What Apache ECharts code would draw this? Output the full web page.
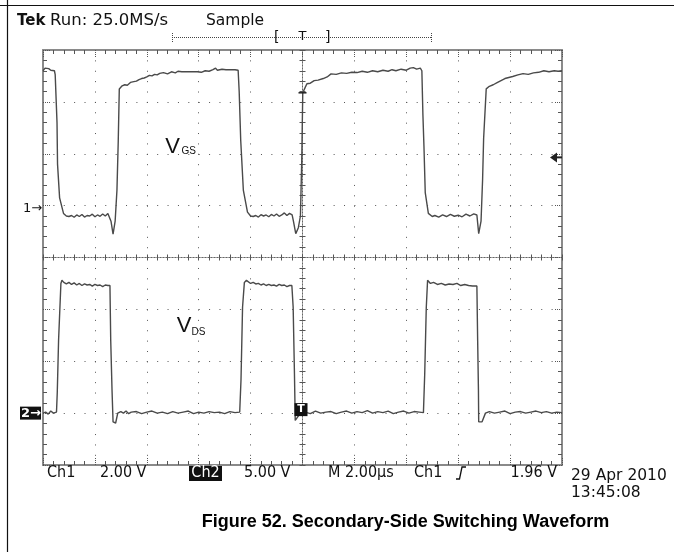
<!DOCTYPE html>
<html>
<head>
<meta charset="utf-8">
<title>Secondary-Side Switching Waveform</title>
<script src="https://cdn.jsdelivr.net/npm/echarts@6.0.0/dist/echarts.min.js"></script>
<style>
  html, body { margin: 0; padding: 0; background: #fff; }
  #chart { width: 674px; height: 552px; }
</style>
</head>
<body>
<div id="chart"></div>
<script>
// time in µs (M 2.00µs/div, trigger at 0), values in volts
const timeRange = [-10, 10];
const ch1Range = [-9.9, 6.1];   // Ch1 2.00 V/div
const ch2Range = [-5, 35];      // Ch2 5.00 V/div
const divRange = [-4, 4];       // 8 vertical divisions
const ch1TriggerLevel = 1.96;

// Ch1 = VGS
const ch1Trace = [
  [-10, 5.30], [-9.92, 5.40], [-9.85, 5.34], [-9.78, 5.38], [-9.70, 5.32], [-9.56, 5.30], [-9.53, 5.15],
  [-9.46, 3.3], [-9.44, 1.7], [-9.36, 0.4], [-9.21, -0.2], [-9.10, -0.30],
  [-9.0, -0.32], [-8.9, -0.28], [-8.8, -0.35], [-8.7, -0.26], [-8.6, -0.32], [-8.5, -0.24], [-8.4, -0.34],
  [-8.3, -0.28], [-8.2, -0.30], [-8.1, -0.23], [-8.0, -0.33], [-7.9, -0.26], [-7.8, -0.31], [-7.7, -0.22],
  [-7.6, -0.30], [-7.5, -0.20], [-7.43, -0.24],
  [-7.38, -0.5], [-7.30, -1.0], [-7.22, -0.5], [-7.15, 0.7], [-7.10, 2.6], [-7.06, 4.6],
  [-6.95, 4.72], [-6.85, 4.76], [-6.75, 4.74], [-6.63, 4.85], [-6.5, 4.88], [-6.4, 4.90], [-6.3, 4.96],
  [-6.2, 5.00], [-6.1, 5.02], [-6.0, 5.06], [-5.9, 5.12], [-5.8, 5.10], [-5.7, 5.16], [-5.6, 5.14],
  [-5.5, 5.20], [-5.36, 5.23], [-5.2, 5.18], [-5.05, 5.26], [-4.9, 5.22], [-4.8, 5.28], [-4.65, 5.26],
  [-4.5, 5.26], [-4.3, 5.26], [-4.05, 5.26], [-3.9, 5.24], [-3.75, 5.30], [-3.6, 5.28], [-3.45, 5.34],
  [-3.35, 5.40], [-3.28, 5.32], [-3.1, 5.36], [-2.95, 5.34], [-2.8, 5.34], [-2.6, 5.34], [-2.48, 5.32],
  [-2.44, 4.5], [-2.38, 2.6], [-2.28, 0.7], [-2.12, -0.15], [-2.0, -0.30],
  [-1.9, -0.32], [-1.8, -0.28], [-1.7, -0.34], [-1.6, -0.25], [-1.5, -0.30], [-1.4, -0.26], [-1.3, -0.33],
  [-1.2, -0.24], [-1.1, -0.30], [-1.0, -0.22], [-0.9, -0.31], [-0.8, -0.26], [-0.7, -0.18], [-0.6, -0.28],
  [-0.5, -0.20], [-0.4, -0.26],
  [-0.35, -0.5], [-0.26, -0.98], [-0.16, -0.75], [-0.08, -0.3], [-0.03, 1.8], [0.01, 4.45],
  [0.1, 4.65], [0.17, 4.80], [0.3, 4.82], [0.45, 4.92], [0.6, 4.94], [0.8, 5.00], [0.95, 5.06], [1.1, 5.18],
  [1.3, 5.16], [1.5, 5.22], [1.7, 5.20], [1.9, 5.24], [2.1, 5.23], [2.3, 5.28], [2.5, 5.24], [2.7, 5.30],
  [2.9, 5.26], [3.1, 5.32], [3.3, 5.28], [3.45, 5.34], [3.6, 5.30], [3.8, 5.36], [4.0, 5.32], [4.15, 5.40],
  [4.27, 5.42], [4.4, 5.36], [4.54, 5.40], [4.6, 5.3],
  [4.64, 3.6], [4.68, 2.4], [4.73, 0.6], [4.85, -0.2], [5.0, -0.32],
  [5.1, -0.28], [5.25, -0.34], [5.4, -0.26], [5.55, -0.32], [5.7, -0.24], [5.85, -0.31], [6.0, -0.27],
  [6.15, -0.33], [6.3, -0.23], [6.45, -0.30], [6.6, -0.22], [6.72, -0.26],
  [6.79, -0.98], [6.88, -0.5], [6.94, 1.1], [6.98, 2.7], [7.08, 4.6],
  [7.2, 4.7], [7.35, 4.76], [7.5, 4.84], [7.65, 4.92], [7.8, 5.00], [7.95, 5.04], [8.1, 5.08], [8.3, 5.14],
  [8.5, 5.19], [8.7, 5.16], [8.9, 5.22], [9.1, 5.24], [9.3, 5.30], [9.5, 5.26], [9.7, 5.30], [9.85, 5.28],
  [10, 5.30]
];

// Ch2 = VDS
const ch2Trace = [
  [-10, 0.0], [-9.9, 0.1], [-9.8, -0.1], [-9.7, 0.2], [-9.6, 0.0], [-9.48, 0.1],
  [-9.45, 2.0], [-9.40, 7.0], [-9.31, 12.5], [-9.27, 12.8],
  [-9.2, 12.6], [-9.1, 12.45], [-9.0, 12.6], [-8.9, 12.4], [-8.8, 12.55], [-8.7, 12.35], [-8.6, 12.5],
  [-8.5, 12.3], [-8.4, 12.45], [-8.3, 12.35], [-8.2, 12.4], [-8.1, 12.25], [-8.0, 12.4], [-7.9, 12.3],
  [-7.8, 12.35], [-7.7, 12.2], [-7.6, 12.35], [-7.5, 12.3], [-7.42, 12.3],
  [-7.39, 7.0], [-7.34, 2.2], [-7.30, -0.85], [-7.2, -0.95], [-7.12, 0.0],
  [-7.0, 0.15], [-6.9, 0.0], [-6.8, 0.2], [-6.7, -0.05], [-6.6, 0.1], [-6.4, 0.15], [-6.2, -0.05],
  [-6.0, 0.1], [-5.8, 0.2], [-5.6, 0.0], [-5.4, 0.1], [-5.2, -0.05], [-5.0, 0.15], [-4.8, 0.0], [-4.6, 0.1],
  [-4.4, 0.2], [-4.2, -0.05], [-4.0, 0.1], [-3.8, 0.0], [-3.6, 0.15], [-3.4, 0.05], [-3.2, 0.1],
  [-3.0, -0.05], [-2.8, 0.15], [-2.6, 0.05], [-2.42, 0.1],
  [-2.37, 3.2], [-2.31, 10.2], [-2.24, 12.6], [-2.16, 12.8], [-2.0, 12.5],
  [-1.9, 12.6], [-1.8, 12.45], [-1.7, 12.5], [-1.6, 12.35], [-1.5, 12.45], [-1.4, 12.3], [-1.3, 12.4],
  [-1.2, 12.3], [-1.1, 12.35], [-1.0, 12.25], [-0.9, 12.4], [-0.8, 12.3], [-0.7, 12.35], [-0.6, 12.2],
  [-0.5, 12.3], [-0.41, 12.3],
  [-0.36, 10.2], [-0.31, 3.8], [-0.28, -0.7], [-0.21, -0.85], [-0.08, 0.0],
  [0.1, 0.1], [0.3, -0.05], [0.5, 0.2], [0.7, 0.0], [0.9, 0.1], [1.1, 0.15], [1.3, -0.05], [1.5, 0.1],
  [1.7, 0.2], [1.9, 0.0], [2.1, 0.15], [2.3, 0.05], [2.5, 0.25], [2.7, 0.0], [2.9, 0.15], [3.1, 0.05],
  [3.3, 0.2], [3.5, -0.05], [3.7, 0.1], [3.9, 0.2], [4.1, 0.0], [4.3, 0.15], [4.5, 0.1], [4.66, 0.05],
  [4.71, 3.8], [4.77, 10.2], [4.82, 12.8], [4.93, 12.5],
  [5.05, 12.6], [5.2, 12.4], [5.35, 12.5], [5.5, 12.35], [5.65, 12.45], [5.8, 12.4], [5.95, 12.5],
  [6.1, 12.3], [6.25, 12.4], [6.4, 12.3], [6.55, 12.25], [6.72, 12.25],
  [6.75, 7.0], [6.78, 2.2], [6.79, -0.84], [6.92, -0.84], [7.05, 0.0],
  [7.2, 0.15], [7.4, 0.0], [7.6, 0.1], [7.8, 0.2], [8.0, -0.05], [8.2, 0.1], [8.4, 0.15], [8.6, 0.0],
  [8.8, 0.1], [9.0, 0.2], [9.2, 0.05], [9.4, 0.15], [9.6, 0.0], [9.8, 0.1], [10, 0.05]
];

const headerTexts = ['Tek', 'Run: 25.0MS/s', 'Sample'];
const readoutTexts = ['Ch1', '2.00 V', 'Ch2', '5.00 V', 'M 2.00µs', 'Ch1', '1.96 V'];
const dateTexts = ['29 Apr 2010', '13:45:08'];
const captionText = 'Figure 52. Secondary-Side Switching Waveform';

const scopeFont = '"DejaVu Sans", sans-serif';
const readFont = '"DejaVu Sans Condensed", "Liberation Sans Narrow", "DejaVu Sans", sans-serif';
const labelFont = '"Liberation Sans", Arial, sans-serif';

const borderColor = '#8a8a8a';
const gridColor = '#555';
const traceColor = '#4a4a4a';
const dots = [1, 9.38];

function borderAxis(pos, extra) {
  return Object.assign({
    type: 'value', position: pos, min: divRange[0], max: divRange[1], interval: 1,
    axisLine: { show: true, onZero: false, lineStyle: { color: borderColor, width: 2 } },
    axisTick: { show: true, inside: true, length: 8, lineStyle: { color: gridColor, type: [1, 1] } },
    minorTick: { show: true, splitNumber: 5, length: 4, lineStyle: { color: gridColor } },
    axisLabel: { show: false },
    splitLine: { show: false }
  }, extra || {});
}

function centerAxis(pos, inside, zeroIndex) {
  return {
    type: 'value', position: pos, min: divRange[0], max: divRange[1], interval: 1,
    axisLine: { show: true, onZero: true, onZeroAxisIndex: zeroIndex, lineStyle: { color: '#666', type: [1, 2] } },
    axisTick: { show: true, inside: inside, length: 3, lineStyle: { color: '#555' } },
    minorTick: { show: true, splitNumber: 5, length: 3, lineStyle: { color: '#555' } },
    axisLabel: { show: false },
    splitLine: { show: false }
  };
}

const xBorder = {
  min: timeRange[0], max: timeRange[1], interval: 2
};

const option = {
  animation: false,
  backgroundColor: '#fff',
  grid: { left: 43, top: 50, width: 519, height: 415, outerBoundsMode: 'none', containLabel: false },
  xAxis: [
    borderAxis('bottom', Object.assign({}, xBorder, {
      splitLine: { show: true, lineStyle: { color: gridColor, width: 1, type: dots } }
    })),
    borderAxis('top', xBorder),
    Object.assign(centerAxis('bottom', true, 2), xBorder),
    Object.assign(centerAxis('bottom', false, 2), xBorder)
  ],
  yAxis: [
    { type: 'value', show: false, min: ch1Range[0], max: ch1Range[1], axisLine: { onZero: false } },
    { type: 'value', show: false, min: ch2Range[0], max: ch2Range[1], axisLine: { onZero: false } },
    borderAxis('left', {
      splitLine: { show: true, lineStyle: { color: gridColor, width: 1, type: dots } }
    }),
    borderAxis('right'),
    centerAxis('left', true, 0),
    centerAxis('left', false, 0)
  ],
  series: [
    {
      name: 'VGS', type: 'line', xAxisIndex: 0, yAxisIndex: 0, data: ch1Trace,
      showSymbol: false, lineStyle: { color: traceColor, width: 1.4 }, z: 5
    },
    {
      name: 'VDS', type: 'line', xAxisIndex: 0, yAxisIndex: 1, data: ch2Trace,
      showSymbol: false, lineStyle: { color: traceColor, width: 1.4 }, z: 5
    }
  ]
};

const chart = echarts.init(document.getElementById('chart'));
chart.setOption(option);

function txt(x, y, s, font, size, extra) {
  return {
    type: 'text', x: x, y: y, z: 20,
    style: Object.assign({ text: s, fontFamily: font, fontSize: size, fill: '#111', verticalAlign: 'middle' }, extra || {})
  };
}
function line(x1, y1, x2, y2, style) {
  return { type: 'line', z: 20, shape: { x1: x1, y1: y1, x2: x2, y2: y2 },
    style: Object.assign({ stroke: '#111', lineWidth: 1 }, style || {}) };
}

// marker positions from the axes
const xT = chart.convertToPixel({ xAxisIndex: 0 }, 0);
const g1 = chart.convertToPixel({ yAxisIndex: 0 }, 0);
const g2 = chart.convertToPixel({ yAxisIndex: 1 }, 0);
const trigY = chart.convertToPixel({ yAxisIndex: 0 }, ch1TriggerLevel);
const trigOnTrace = chart.convertToPixel({ yAxisIndex: 0 }, 4.45);
const xRight = 43 + 519;

const graphics = [
  // page frame
  line(7.5, 0, 7.5, 552, { lineWidth: 1.2 }),
  line(0, 5.5, 674, 5.5, { lineWidth: 1.2 }),
  // header
  txt(17, 21, headerTexts[0], scopeFont, 15, { fontWeight: 'bold' }),
  txt(50, 21, headerTexts[1], scopeFont, 16.5),
  txt(206, 21, headerTexts[2], scopeFont, 15.5),
  // trigger position bar
  line(172, 37.5, 432, 37.5, { stroke: '#444', lineDash: [1, 1] }),
  line(172.5, 33, 172.5, 42, { stroke: '#444', lineDash: [1, 1] }),
  line(431.5, 33, 431.5, 42, { stroke: '#444', lineDash: [1, 1] }),
  txt(274, 37, '[', scopeFont, 14),
  txt(xT, 37, 'T', scopeFont, 13, { align: 'center' }),
  txt(325, 37, ']', scopeFont, 14),
  // channel ground markers
  txt(23, g1, '1→', scopeFont, 13),
  { type: 'rect', z: 20, shape: { x: 20, y: g2 - 6.5, width: 21, height: 13 }, style: { fill: '#111' } },
  txt(21, g2, '2→', scopeFont, 13, { fill: '#fff', fontWeight: 'bold' }),
  // trigger level arrow
  { type: 'polygon', z: 20, shape: { points: [[xRight - 12, trigY], [xRight - 5, trigY - 5], [xRight - 5, trigY + 5]] }, style: { fill: '#222' } },
  line(xRight - 6, trigY, xRight, trigY, { stroke: '#222', lineWidth: 2 }),
  // trigger point marks
  line(xT - 4, trigOnTrace, xT + 4, trigOnTrace, { stroke: '#222', lineWidth: 1.5 }),
  { type: 'rect', z: 20, shape: { x: xT - 8, y: g2 - 10, width: 13, height: 13 }, style: { fill: '#111' } },
  txt(xT - 1.5, g2 - 3.5, 'T', scopeFont, 11, { fill: '#fff', align: 'center', fontWeight: 'bold' }),
  // waveform names
  txt(172.5, 146.5, 'V', labelFont, 22, { align: 'center' }),
  txt(181.5, 151.5, 'GS', labelFont, 10),
  txt(184, 326, 'V', labelFont, 22, { align: 'center' }),
  txt(191.5, 332.5, 'DS', labelFont, 10),
  // readouts
  txt(47, 473, readoutTexts[0], readFont, 16),
  txt(100, 473, readoutTexts[1], readFont, 16),
  { type: 'rect', z: 20, shape: { x: 189, y: 466, width: 33, height: 15 }, style: { fill: '#111' } },
  txt(205.5, 473, readoutTexts[2], readFont, 16, { fill: '#fff', align: 'center' }),
  txt(244, 473, readoutTexts[3], readFont, 16),
  txt(328, 473, readoutTexts[4], readFont, 16),
  txt(414, 473, readoutTexts[5], readFont, 16),
  { type: 'polyline', z: 20, shape: { points: [[456, 479], [459.5, 479], [462, 467], [466, 467]] }, style: { stroke: '#111', lineWidth: 1.3, fill: null } },
  txt(557, 473, readoutTexts[6], readFont, 16, { align: 'right' }),
  txt(571, 476, dateTexts[0], scopeFont, 15.5),
  txt(571, 493, dateTexts[1], scopeFont, 15.5),
  // caption
  txt(405.5, 522, captionText, labelFont, 18, { fontWeight: 'bold', align: 'center', fill: '#000' })
];

chart.setOption({ graphic: graphics });
</script>
</body>
</html>
